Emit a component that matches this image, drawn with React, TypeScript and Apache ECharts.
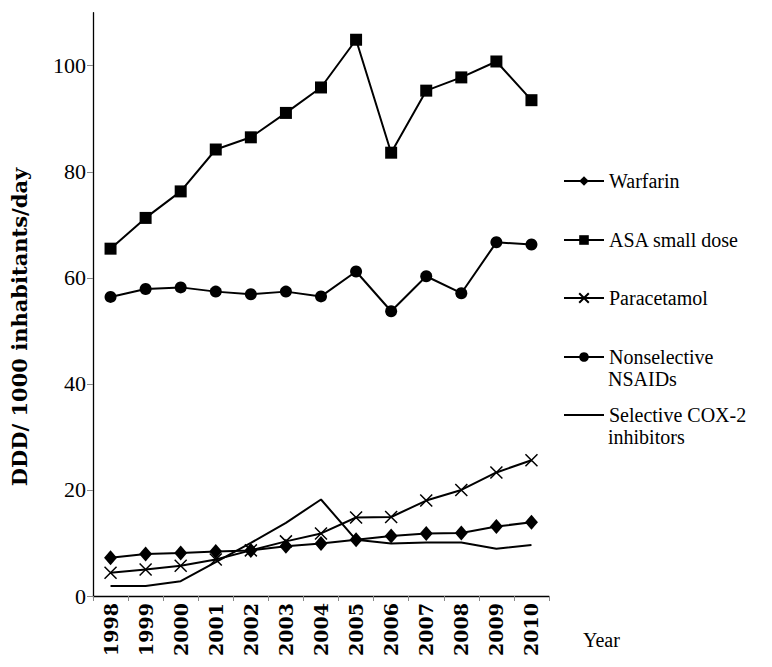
import React, { useEffect, useRef } from "react";
import * as echarts from "echarts";

const years = ["1998", "1999", "2000", "2001", "2002", "2003", "2004", "2005", "2006", "2007", "2008", "2009", "2010"];
const warfarin = [7.2, 7.9, 8.1, 8.4, 8.6, 9.4, 9.9, 10.6, 11.3, 11.8, 11.9, 13.1, 13.9];
const asaSmallDose = [65.5, 71.3, 76.3, 84.2, 86.5, 91.1, 95.9, 104.9, 83.6, 95.3, 97.8, 100.8, 93.5];
const paracetamol = [4.4, 5.0, 5.7, 6.9, 8.6, 10.3, 11.8, 14.8, 14.9, 18.0, 20.0, 23.3, 25.6];
const nsaids = [56.4, 57.9, 58.2, 57.4, 56.9, 57.4, 56.5, 61.2, 53.7, 60.3, 57.1, 66.7, 66.3];
const cox2 = [1.9, 1.9, 2.8, 6.4, 10.0, 13.8, 18.2, 10.6, 9.9, 10.1, 10.1, 8.9, 9.6];
const yTicks = [0, 20, 40, 60, 80, 100];

const FONT = "Liberation Serif";
const BOLD_FONT = "DejaVu Serif";
const X_SYMBOL = "path://M0,0L10,10M10,0L0,10";

export default function App() {
  const ref = useRef<HTMLDivElement>(null);
  useEffect(() => {
    if (!ref.current) return;
    const chart = echarts.init(ref.current, null, { renderer: "svg" });
    const lineStyle = { color: "#000", width: 2 };
    const legendItem = (name: string, centerY: number, extra: any = {}) => ({
      data: [name],
      left: 563,
      top: centerY - 11,
      padding: 0,
      itemWidth: 40,
      itemHeight: 12,
      selectedMode: false,
      textStyle: { fontFamily: FONT, fontSize: 20, color: "#000", lineHeight: 22 },
      ...extra,
    });
    const legendText = { fontFamily: FONT, fontSize: 20, fill: "#000" };
    chart.setOption({
      animation: false,
      textStyle: { fontFamily: FONT },
      grid: { left: 93, right: 223, top: 12.7, bottom: 71 },
      legend: [
        legendItem("Warfarin", 181),
        legendItem("ASA small dose", 240),
        legendItem("Paracetamol", 298),
        legendItem("Nonselective NSAIDs", 357, { formatter: () => "Nonselective" }),
        legendItem("Selective COX-2 inhibitors", 415, {
          formatter: () => "Selective COX-2",
          itemStyle: { opacity: 0 },
        }),
      ],
      graphic: [
        {
          type: "text",
          left: 608,
          top: 369,
          style: { ...legendText, text: "NSAIDs" },
        },
        {
          type: "text",
          left: 608,
          top: 427,
          style: { ...legendText, text: "inhibitors" },
        },
        {
          type: "text",
          left: 583,
          top: 630,
          style: { ...legendText, text: "Year" },
        },
        {
          type: "text",
          x: 19,
          y: 327,
          rotation: Math.PI / 2,
          style: {
            text: "DDD/ 1000 inhabitants/day",
            fontFamily: BOLD_FONT,
            fontWeight: "bold",
            fontSize: 21,
            fill: "#000",
            align: "center",
            verticalAlign: "middle",
          },
        },
      ],
      xAxis: {
        type: "category",
        data: years,
        boundaryGap: true,
        axisLine: { lineStyle: { color: "#000", width: 1.3 } },
        axisTick: { show: true, length: 5, lineStyle: { color: "#888" } },
        axisLabel: { rotate: 90, fontFamily: BOLD_FONT, fontSize: 19, fontWeight: "bold", color: "#000", margin: 7 },
        splitLine: { show: false },
      },
      yAxis: {
        type: "value",
        min: 0,
        max: 110,
        interval: 20,
        axisLine: { show: true, lineStyle: { color: "#000", width: 1.3 } },
        axisTick: { show: true, length: 6, customValues: yTicks, lineStyle: { color: "#888" } },
        axisLabel: { customValues: yTicks, fontFamily: FONT, fontSize: 22, color: "#000", margin: 7 },
        splitLine: { show: false },
      },
      series: [
        {
          name: "Warfarin",
          type: "line",
          data: warfarin,
          symbol: "diamond",
          symbolSize: [13, 15],
          itemStyle: { color: "#000" },
          lineStyle,
        },
        {
          name: "ASA small dose",
          type: "line",
          data: asaSmallDose,
          symbol: "rect",
          symbolSize: 12,
          itemStyle: { color: "#000" },
          lineStyle,
        },
        {
          name: "Paracetamol",
          type: "line",
          data: paracetamol,
          symbol: X_SYMBOL,
          symbolSize: 12,
          itemStyle: { color: "#000", borderColor: "#000", borderWidth: 1.5 },
          lineStyle,
        },
        {
          name: "Nonselective NSAIDs",
          type: "line",
          data: nsaids,
          symbol: "circle",
          symbolSize: 12,
          itemStyle: { color: "#000" },
          lineStyle,
        },
        {
          name: "Selective COX-2 inhibitors",
          type: "line",
          data: cox2,
          symbol: "none",
          itemStyle: { color: "#000" },
          lineStyle,
        },
      ],
    });
    return () => chart.dispose();
  }, []);
  return <div ref={ref} style={{ position: "fixed", left: 0, top: 0, width: 772, height: 667, background: "#fff" }} />;
}
